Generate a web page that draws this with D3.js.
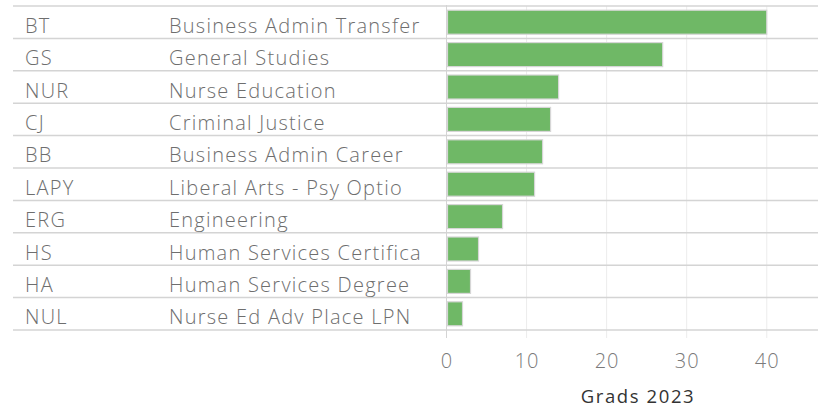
<!DOCTYPE html>
<html>
<head>
<meta charset="utf-8">
<script src="https://cdn.jsdelivr.net/npm/d3@7"></script>
<style>
  body { margin: 0; background: #fff; }
  svg { display: block; font-family: "Open Sans", sans-serif; }
</style>
</head>
<body>
<svg width="818" height="418"></svg>
<script>
var codes = ["BT", "GS", "NUR", "CJ", "BB", "LAPY", "ERG", "HS", "HA", "NUL"];
var names = ["Business Admin Transfer", "General Studies", "Nurse Education", "Criminal Justice",
  "Business Admin Career", "Liberal Arts - Psy Optio", "Engineering", "Human Services Certifica",
  "Human Services Degree", "Nurse Ed Adv Place LPN"];
var grads = [40, 27, 14, 13, 12, 11, 7, 4, 3, 2];
var ticks = [0, 10, 20, 30, 40];

var svg = d3.select("svg");
var width = +svg.attr("width");
var rows = codes.map(function(c, i) { return {code: c, name: names[i], value: grads[i]}; });

var x = d3.scaleLinear().domain([0, 46.4]).range([446.5, 818]);
var y = d3.scaleBand().domain(codes).range([6, 330]);

// vertical gridlines
svg.selectAll(".grid")
  .data(ticks.slice(1))
  .enter().append("line")
  .attr("x1", function(d) { return x(d); })
  .attr("x2", function(d) { return x(d); })
  .attr("y1", 6).attr("y2", 338)
  .attr("stroke", "#ececec").attr("stroke-width", 1);

// row separators
svg.selectAll(".sep")
  .data(codes.concat(["end"]))
  .enter().append("line")
  .attr("x1", 13).attr("x2", width)
  .attr("y1", function(d, i) { return i < codes.length ? y(d) : y.range()[1]; })
  .attr("y2", function(d, i) { return i < codes.length ? y(d) : y.range()[1]; })
  .attr("stroke", "#d4d4d4").attr("stroke-width", 1.5);

// zero axis line
svg.append("line")
  .attr("x1", x(0)).attr("x2", x(0))
  .attr("y1", 5).attr("y2", 338)
  .attr("stroke", "#d4d4d4").attr("stroke-width", 1);

var bh = 24;
svg.selectAll(".bar")
  .data(rows)
  .enter().append("rect")
  .attr("x", x(0) + 1)
  .attr("y", function(d) { return y(d.code) + (y.bandwidth() - bh) / 2; })
  .attr("width", function(d) { return x(d.value) - x(0) - 1; })
  .attr("height", bh)
  .attr("fill", "#6fb866")
  .attr("stroke", "#d6d6d6").attr("stroke-width", 1.2);

function label(cls, xpos, fn) {
  svg.selectAll("." + cls)
    .data(rows)
    .enter().append("text")
    .attr("class", cls)
    .attr("x", xpos)
    .attr("y", function(d) { return y(d.code) + y.bandwidth() / 2 + 10.5; })
    .attr("fill", "#6e6e6e")
    .style("font-size", "20px").style("font-weight", 300)
    .style("letter-spacing", "1.25px")
    .text(fn);
}
label("code", 25, function(d) { return d.code; });
label("name", 169, function(d) { return d.name; });

var axis = svg.append("g")
  .attr("transform", "translate(0,341)")
  .call(d3.axisBottom(x).tickValues(ticks).tickSize(0).tickPadding(12.5));
axis.select(".domain").remove();
axis.selectAll("text")
  .attr("fill", "#7a7a7a")
  .style("font-family", "'Open Sans', sans-serif")
  .style("font-size", "20px").style("font-weight", 300)
  .style("letter-spacing", "1px");

svg.append("text")
  .attr("x", 638).attr("y", 403)
  .attr("text-anchor", "middle")
  .attr("fill", "#333")
  .style("font-size", "18.5px").style("font-weight", 500)
  .style("letter-spacing", "1.6px")
  .text("Grads 2023");
</script>
</body>
</html>
